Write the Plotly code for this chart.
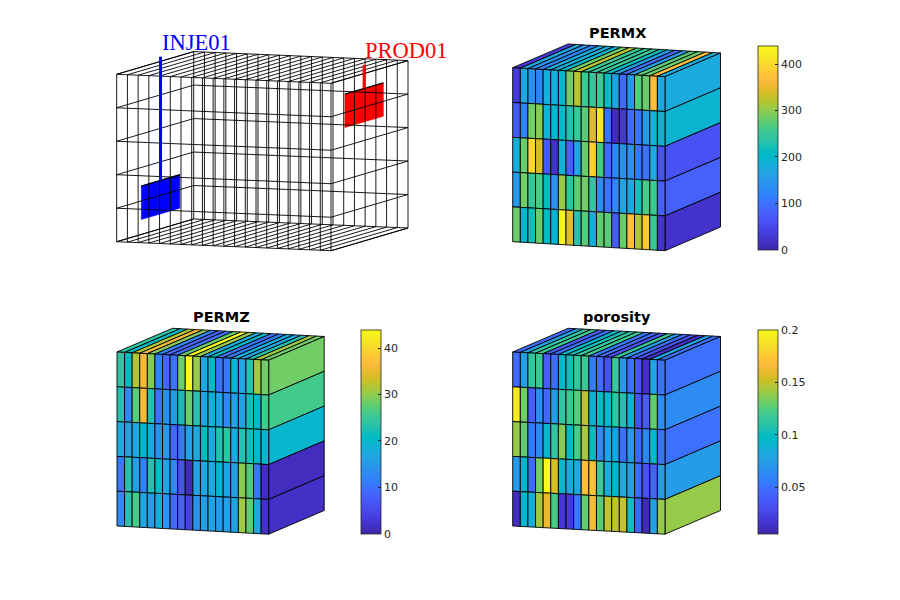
import plotly.graph_objects as go
from plotly.colors import sample_colorscale

PARULA = [[0.2422,0.1504,0.6603],[0.2504,0.1650,0.7076],[0.2578,0.1818,0.7511],[0.2647,0.1978,0.7952],
          [0.2706,0.2147,0.8364],[0.2751,0.2342,0.8710],[0.2783,0.2559,0.8991],[0.2803,0.2782,0.9221],
          [0.2813,0.3006,0.9414],[0.2810,0.3228,0.9579],[0.2795,0.3447,0.9717],[0.2760,0.3667,0.9829],
          [0.2699,0.3892,0.9906],[0.2602,0.4123,0.9952],[0.2440,0.4358,0.9988],[0.2206,0.4603,0.9973],
          [0.1963,0.4847,0.9892],[0.1834,0.5074,0.9798],[0.1786,0.5289,0.9682],[0.1764,0.5499,0.9520],
          [0.1687,0.5703,0.9359],[0.1540,0.5902,0.9218],[0.1460,0.6091,0.9079],[0.1380,0.6276,0.8973],
          [0.1248,0.6459,0.8883],[0.1113,0.6635,0.8763],[0.0952,0.6798,0.8598],[0.0689,0.6948,0.8394],
          [0.0297,0.7082,0.8163],[0.0036,0.7203,0.7917],[0.0067,0.7312,0.7660],[0.0433,0.7411,0.7394],
          [0.0964,0.7500,0.7120],[0.1408,0.7584,0.6842],[0.1717,0.7670,0.6554],[0.1938,0.7758,0.6251],
          [0.2161,0.7843,0.5923],[0.2470,0.7918,0.5567],[0.2906,0.7973,0.5188],[0.3406,0.8008,0.4789],
          [0.3909,0.8029,0.4354],[0.4456,0.8024,0.3909],[0.5044,0.7993,0.3480],[0.5616,0.7942,0.3045],
          [0.6174,0.7876,0.2612],[0.6720,0.7793,0.2227],[0.7242,0.7698,0.1910],[0.7738,0.7598,0.1646],
          [0.8203,0.7498,0.1535],[0.8634,0.7406,0.1596],[0.9035,0.7330,0.1774],[0.9393,0.7288,0.2100],
          [0.9728,0.7298,0.2394],[0.9956,0.7434,0.2371],[0.9970,0.7659,0.2199],[0.9952,0.7893,0.2028],
          [0.9892,0.8136,0.1885],[0.9786,0.8386,0.1766],[0.9676,0.8639,0.1643],[0.9610,0.8890,0.1537],
          [0.9597,0.9135,0.1423],[0.9628,0.9373,0.1265],[0.9691,0.9606,0.1064],[0.9769,0.9839,0.0805]]
COLORSCALE = [[n / (len(PARULA) - 1), f"rgb({r*255:.0f},{g*255:.0f},{b*255:.0f})"] for n, (r, g, b) in enumerate(PARULA)]

permx = [
    [31,172,141,123,180,180,198,286,321,255,246,255,211,163,92,154,273,282,370,176],
    [75,123,286,295,185,198,207,229,251,273,343,418,101,13,26,92,101,154,185,194],
    [185,282,400,339,75,22,189,79,172,282,392,264,92,132,141,141,101,101,172,62],
    [150,286,251,264,211,141,304,242,277,286,242,132,101,128,167,172,220,264,255,79],
    [282,198,220,282,207,198,431,343,233,273,185,277,273,75,282,370,317,383,255,22],
]
permz = [
    [24.2,20.7,31.7,36.1,29.5,12.3,8.4,10.1,28.2,44,30.4,17.2,20.7,10.1,11.4,18.5,16.7,22.9,30.8,28.6],
    [22.9,13.2,27.3,36.1,22.9,10.1,14.1,15.4,22,28.2,23.3,16.7,18.9,16.7,13.2,16.3,16.3,22,20.2,26],
    [18,16.3,17.2,19.8,17.2,14.1,15.4,8.8,11,16.3,17.2,21.1,17.2,22.9,24.2,17.2,22.9,22,19.8,19.8],
    [11,22.9,15.8,12.3,22.9,20.7,17.2,13.2,6.2,.9,16.3,16.7,17.2,19.8,16.3,16.3,29.9,26.8,11,1.3],
    [13.2,23.3,26.4,17.2,15.8,18,15.4,8.8,8.4,4.4,14.1,15.8,16.3,15.4,15.8,16.7,30.8,27.7,16.7,1.8],
]
porosity = [
    [.047,.078,.113,.118,.039,.050,.095,.103,.115,.118,.054,.047,.033,.116,.074,.050,.033,.0135,.080,.050],
    [.192,.132,.041,.064,.047,.074,.113,.118,.126,.148,.093,.099,.093,.111,.107,.087,.033,.039,.128,.064],
    [.140,.128,.054,.064,.093,.113,.136,.097,.122,.144,.099,.064,.078,.074,.050,.072,.043,.060,.093,.050],
    [.072,.093,.047,.132,.2,.155,.093,.082,.082,.169,.171,.118,.085,.095,.085,.078,.043,.033,.043,.074],
    [.0115,.093,.087,.142,.161,.122,.0174,.0193,.054,.128,.165,.126,.149,.148,.151,.103,.041,.0096,.078,.140],
]
NX, NZ = 20, 5
W, H = 900, 600
OFF = 8  # the page body adds this margin around the figure
TICK = "#262626"

PANELS = [
    ("PERMX", permx, 0, 440, [0,100,200,300,400], (512.7,67.7), (152.3,9.0), (55.5,-23.7), 174, 617, 33, (757.7,45.7,20,203.6)),
    ("PERMZ", permz, 0, 44, [0,10,20,30,40], (117,352), (151.7,8.2), (55.5,-23.7), 174, 221, 317, (361.3,329.7,20,203.6)),
    ("porosity", porosity, 0.0057, 0.2, [0.05,0.1,0.15,0.2], (512.7,352), (152.3,8.2), (55.5,-23.7), 174, 617, 317, (757.7,329.7,20,203.6)),
]

fig = go.Figure()
fx = lambda px: (px - OFF) / W
fy = lambda py: 1 - (py - OFF) / H

def axes(n, x0, x1, y0, y1):
    s = "" if n == 1 else str(n)
    common = dict(visible=False, showgrid=False, zeroline=False, fixedrange=True)
    fig.layout[f"xaxis{s}"] = dict(domain=[fx(x0), fx(x1)], range=[x0, x1], anchor=f"y{s}", **common)
    fig.layout[f"yaxis{s}"] = dict(domain=[fy(y1), fy(y0)], range=[y1, y0], anchor=f"x{s}", **common)
    return f"x{s}", f"y{s}"

def projector(o, u, d, h):
    return lambda i, j, k: (o[0] + i / NX * u[0] + j * d[0], o[1] + i / NX * u[1] + j * d[1] + k / NZ * h)

def poly(xa, ya, pts, fill, edge="black", width=0.9):
    xs = [p[0] for p in pts] + [pts[0][0]]
    ys = [p[1] for p in pts] + [pts[0][1]]
    fig.add_trace(go.Scatter(x=xs, y=ys, xaxis=xa, yaxis=ya, mode="lines", fill="toself", fillcolor=fill,
                             line=dict(color=edge, width=width), hoverinfo="skip", showlegend=False))

# --- wireframe panel with the two wells
xa, ya = axes(1, 100, 440, 30, 260)
P = projector((116.7, 74.3), (214.3, 9.0), (77.0, -22.7), 167.4)

WELLS = [("INJE01", "blue", 0.5, 3.5, 4.5, 56.7, 161, 42.5),
         ("PROD01", "red", 19.5, 0.5, 1.5, 65.0, 364, 50.5)]
for name, col, i, k0, k1, ytop, tx, ty in WELLS:
    a, b, c, e = P(i, .25, k0), P(i, .75, k0), P(i, .75, k1), P(i, .25, k1)
    poly(xa, ya, [a, b, c, e], col, col, 0.5)

gx, gy = [], []
def seg(p, q):
    gx.extend([p[0], q[0], None]); gy.extend([p[1], q[1], None])
for i in range(NX + 1):
    for j in (0, 1):
        seg(P(i, j, 0), P(i, j, NZ))
    for k in (0, NZ):
        seg(P(i, 0, k), P(i, 1, k))
for k in range(NZ + 1):
    for j in (0, 1):
        seg(P(0, j, k), P(NX, j, k))
    for i in (0, NX):
        seg(P(i, 0, k), P(i, 1, k))
fig.add_trace(go.Scatter(x=gx, y=gy, xaxis=xa, yaxis=ya, mode="lines", line=dict(color="black", width=0.9),
                         hoverinfo="skip", showlegend=False))

for name, col, i, k0, k1, ytop, tx, ty in WELLS:
    a, b = P(i, .25, k0), P(i, .75, k0)
    fig.add_trace(go.Scatter(x=[a[0], b[0]], y=[a[1], b[1]], xaxis=xa, yaxis=ya, mode="lines",
                             line=dict(color="black", width=1.3), hoverinfo="skip", showlegend=False))
    m = P(i, .5, k0)
    fig.add_trace(go.Scatter(x=[m[0], m[0]], y=[ytop, m[1]], xaxis=xa, yaxis=ya, mode="lines",
                             line=dict(color=col, width=3), hoverinfo="skip", showlegend=False))
    fig.add_annotation(x=fx(tx), y=fy(ty), xref="paper", yref="paper", text=name, showarrow=False,
                       xanchor="left", yanchor="middle", xshift=-1.5,
                       font=dict(family="Liberation Serif", size=22.5, color=col))

# --- coloured panels
for n, (name, vals, cmin, cmax, ticks, o, u, d, h, tx, ty, cb) in enumerate(PANELS, start=2):
    xa, ya = axes(n, o[0] - 10, o[0] + u[0] + d[0] + 10, o[1] + d[1] - 10, o[1] + u[1] + h + 10)
    P = projector(o, u, d, h)
    colour = lambda v: sample_colorscale(COLORSCALE, [(v - cmin) / (cmax - cmin)])[0]
    for i in range(NX):
        poly(xa, ya, [P(i, 0, 0), P(i + 1, 0, 0), P(i + 1, 1, 0), P(i, 1, 0)], colour(vals[0][i]))
    for k in range(NZ):
        poly(xa, ya, [P(NX, 0, k), P(NX, 1, k), P(NX, 1, k + 1), P(NX, 0, k + 1)], colour(vals[k][NX - 1]))
    for k in range(NZ):
        for i in range(NX):
            poly(xa, ya, [P(i, 0, k), P(i + 1, 0, k), P(i + 1, 0, k + 1), P(i, 0, k + 1)], colour(vals[k][i]))
    fig.add_annotation(x=fx(tx), y=fy(ty), xref="paper", yref="paper", text=f"<b>{name}</b>", showarrow=False,
                       xanchor="center", yanchor="middle",
                       font=dict(family="DejaVu Sans", size=14.5, color="black"))
    cx, cy, cw, ch = cb
    fig.add_trace(go.Scatter(x=[o[0]], y=[o[1]], xaxis=xa, yaxis=ya, mode="markers", hoverinfo="skip", showlegend=False,
                             marker=dict(size=0.1, opacity=0, color=[cmin], cmin=cmin, cmax=cmax, colorscale=COLORSCALE, showscale=True,
                                         colorbar=dict(x=fx(cx), xanchor="left", xpad=0, y=fy(cy), yanchor="top", ypad=0,
                                                       len=ch, lenmode="pixels", thickness=cw, thicknessmode="pixels",
                                                       outlinecolor=TICK, outlinewidth=0.8, tickvals=ticks, ticks="inside",
                                                       ticklen=3, tickcolor=TICK, tickwidth=0.8, tickprefix="\u00a0",
                                                       tickfont=dict(family="DejaVu Sans", size=11, color=TICK)))))

fig.update_layout(width=W, height=H, margin=dict(l=0, r=0, t=0, b=0, autoexpand=False),
                  paper_bgcolor="white", plot_bgcolor="rgba(0,0,0,0)", showlegend=False)
fig.write_html("out.html")
